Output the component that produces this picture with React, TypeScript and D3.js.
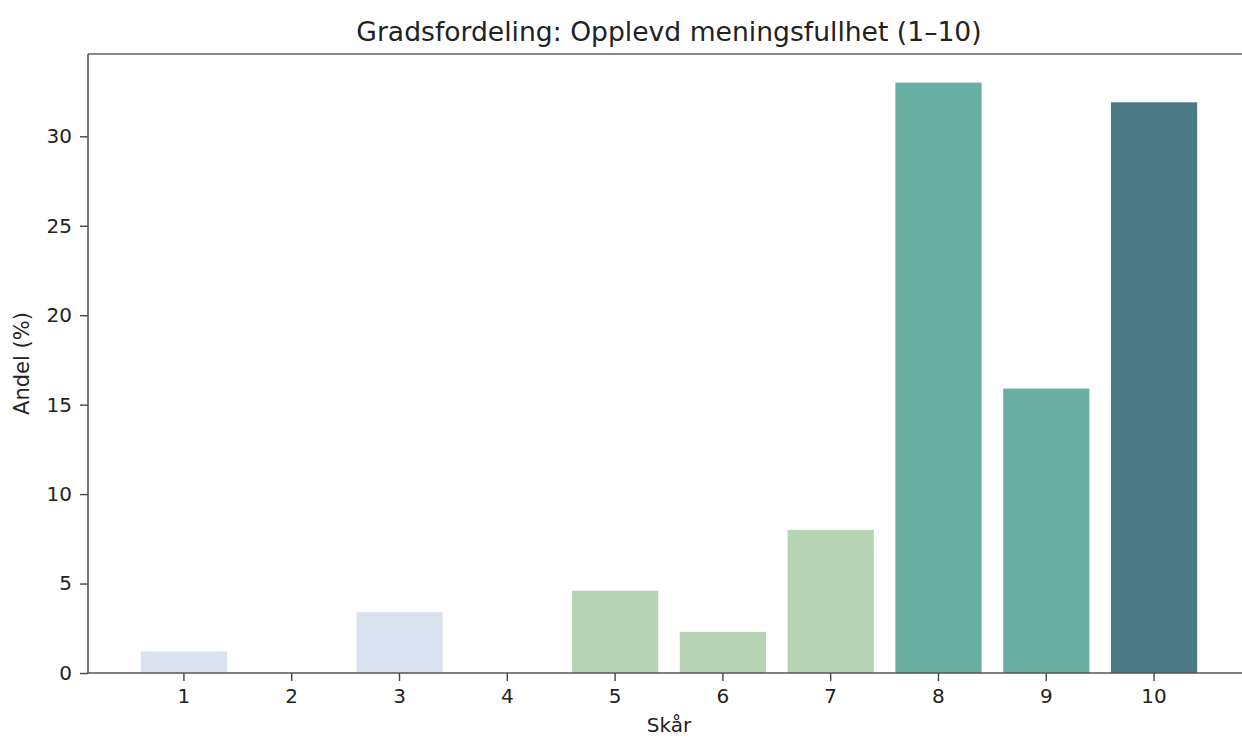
import * as d3 from "d3";
import React, { useEffect, useRef } from "react";

const scores: string[] = ["1", "2", "3", "4", "5", "6", "7", "8", "9", "10"];
const shares: number[] = [1.2, 0, 3.4, 0, 4.6, 2.3, 8.0, 33.0, 15.9, 31.9];
const barColors: string[] = [
  "#dae2ef",
  "#dae2ef",
  "#dae2ef",
  "#dae2ef",
  "#b6d4b4",
  "#b6d4b4",
  "#b6d4b4",
  "#6aafa3",
  "#6aafa3",
  "#4a7985",
];
const yTicks: number[] = [0, 5, 10, 15, 20, 25, 30];

const W = 1242;
const H = 738;
const left = 88;
const right = 1250;
const top = 54;
const bottom = 673;
const font = "DejaVu Sans, sans-serif";

const App: React.FC = () => {
  const svgRef = useRef<SVGSVGElement>(null);

  useEffect(() => {
    const svg = d3.select(svgRef.current);
    svg.selectAll("*").remove();

    const x = d3
      .scaleBand<string>()
      .domain(scores)
      .range([left, right])
      .paddingInner(0.2)
      .paddingOuter(0.49);

    const y = d3.scaleLinear().domain([0, 34.6]).range([bottom, top]);

    // bars
    svg
      .append("g")
      .selectAll("rect")
      .data(shares)
      .join("rect")
      .attr("x", (_, i) => x(scores[i]) as number)
      .attr("width", x.bandwidth())
      .attr("y", (d) => y(d))
      .attr("height", (d) => y(0) - y(d))
      .attr("fill", (_, i) => barColors[i]);

    // axes
    svg
      .append("g")
      .attr("transform", `translate(0,${bottom})`)
      .call(d3.axisBottom(x).tickSize(8).tickPadding(8).tickSizeOuter(0))
      .call((g) => g.select(".domain").remove())
      .call((g) =>
        g.selectAll("text").style("font-family", font).style("font-size", "20px").attr("fill", "#222")
      )
      .call((g) => g.selectAll("line").attr("stroke", "#444").attr("stroke-width", 1.4));

    svg
      .append("g")
      .attr("transform", `translate(${left},0)`)
      .call(d3.axisLeft(y).tickValues(yTicks).tickSize(8).tickPadding(8))
      .call((g) => g.select(".domain").remove())
      .call((g) =>
        g.selectAll("text").style("font-family", font).style("font-size", "20px").attr("fill", "#222")
      )
      .call((g) => g.selectAll("line").attr("stroke", "#444").attr("stroke-width", 1.4));

    // spines
    svg
      .append("line")
      .attr("x1", left)
      .attr("x2", right)
      .attr("y1", top)
      .attr("y2", top)
      .attr("stroke", "#8a8a8a")
      .attr("stroke-width", 2);
    svg
      .append("line")
      .attr("x1", left)
      .attr("x2", right)
      .attr("y1", bottom)
      .attr("y2", bottom)
      .attr("stroke", "#555")
      .attr("stroke-width", 1.6);
    svg
      .append("line")
      .attr("x1", left)
      .attr("x2", left)
      .attr("y1", top)
      .attr("y2", bottom)
      .attr("stroke", "#555")
      .attr("stroke-width", 1.6);

    // title and labels
    svg
      .append("text")
      .attr("x", (left + right) / 2)
      .attr("y", 41)
      .attr("text-anchor", "middle")
      .style("font-family", font)
      .style("font-size", "26.6px")
      .attr("fill", "#222")
      .text("Gradsfordeling: Opplevd meningsfullhet (1–10)");

    svg
      .append("text")
      .attr("x", (left + right) / 2)
      .attr("y", 732)
      .attr("text-anchor", "middle")
      .style("font-family", font)
      .style("font-size", "20px")
      .attr("fill", "#222")
      .text("Skår");

    svg
      .append("text")
      .attr("transform", `translate(29,${(top + bottom) / 2}) rotate(-90)`)
      .attr("text-anchor", "middle")
      .style("font-family", font)
      .style("font-size", "21px")
      .attr("fill", "#222")
      .text("Andel (%)");
  }, []);

  return (
    <svg
      ref={svgRef}
      width={W}
      height={H}
      style={{ position: "absolute", left: 0, top: 0, background: "#fff" }}
    />
  );
};

export default App;
